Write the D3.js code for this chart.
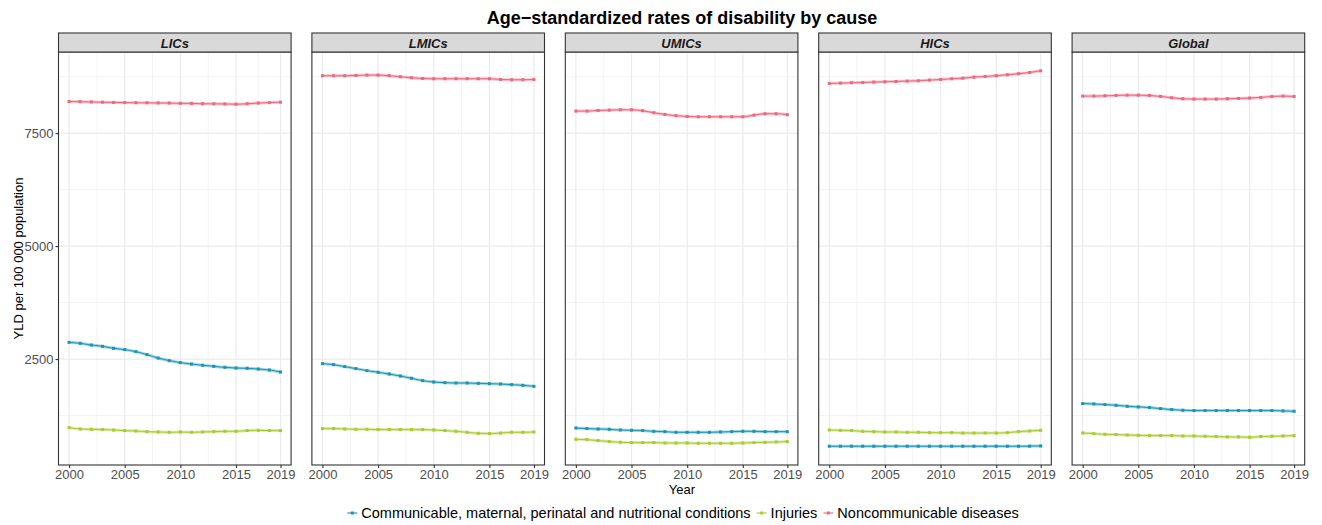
<!DOCTYPE html>
<html>
<head>
<meta charset="utf-8">
<script src="https://cdn.jsdelivr.net/npm/d3@7"></script>
<style>
  html, body { margin: 0; padding: 0; background: #fff; }
  svg { display: block; font-family: "Liberation Sans", Arial, sans-serif; }
</style>
</head>
<body>
<svg id="chart" width="1322" height="525"></svg>
<script>
const years = d3.range(2000, 2020);
const regions = ["LICs", "LMICs", "UMICs", "HICs", "Global"];
const causes = ["Communicable, maternal, perinatal and nutritional conditions", "Injuries", "Noncommunicable diseases"];
const colors = ["#1696B5", "#A7CC2C", "#F0657F"];
const yTicks = [2500, 5000, 7500];
const xTicks = [2000, 2005, 2010, 2015, 2019];

// Communicable, maternal, perinatal and nutritional conditions
const commLICs   = [2869,2847,2810,2781,2737,2708,2664,2597,2522,2465,2420,2389,2361,2338,2316,2301,2294,2279,2257,2212];
const commLMICs  = [2398,2376,2332,2288,2243,2206,2168,2124,2073,2022,1991,1977,1969,1969,1962,1955,1947,1933,1918,1896];
const commUMICs  = [973,960,951,945,929,922,916,900,893,878,878,878,878,885,893,900,900,893,893,893];
const commHICs   = [570,570,570,570,570,570,570,570,570,570,570,570,570,570,570,570,570,570,572,576];
const commGlobal = [1513,1506,1491,1476,1454,1440,1425,1403,1381,1366,1359,1359,1359,1359,1359,1359,1359,1359,1352,1344];
// Injuries
const injLICs    = [982,951,945,938,929,916,907,893,885,878,885,878,885,893,900,900,916,922,916,916];
const injLMICs   = [960,960,951,945,945,938,938,938,938,938,929,916,900,878,856,849,862,878,878,885];
const injUMICs   = [723,716,695,672,657,650,650,650,642,642,642,635,635,635,635,642,650,657,664,672];
const injHICs    = [929,922,916,900,893,885,885,878,878,871,871,871,862,862,862,862,871,893,907,922];
const injGlobal  = [863,849,834,827,819,812,805,805,805,797,797,790,783,776,776,768,783,790,797,805];
// Noncommunicable diseases
const ncdLICs    = [8200,8195,8190,8185,8180,8175,8172,8170,8168,8165,8160,8158,8150,8148,8145,8140,8150,8165,8175,8185];
const ncdLMICs   = [8770,8770,8770,8777,8784,8784,8770,8748,8726,8710,8703,8703,8703,8703,8703,8703,8688,8681,8681,8688];
const ncdUMICs   = [7987,7987,8002,8009,8017,8017,7995,7951,7914,7885,7870,7862,7862,7862,7862,7862,7898,7929,7929,7907];
const ncdHICs    = [8600,8607,8615,8622,8629,8636,8644,8651,8658,8673,8688,8703,8717,8739,8754,8770,8792,8814,8843,8880];
const ncdGlobal  = [8319,8319,8326,8334,8341,8341,8334,8312,8283,8261,8253,8253,8253,8261,8268,8275,8290,8312,8319,8312];

const seriesByRegion = {
  LICs:   [commLICs, injLICs, ncdLICs],
  LMICs:  [commLMICs, injLMICs, ncdLMICs],
  UMICs:  [commUMICs, injUMICs, ncdUMICs],
  HICs:   [commHICs, injHICs, ncdHICs],
  Global: [commGlobal, injGlobal, ncdGlobal]
};

const svg = d3.select("#chart");
const panelLeft0 = 58.5, panelStep = 253.4, panelW = 232.6;
const panelTop = 52, panelBottom = 465, stripTop = 33;

// y scale: shared, with ggplot-style 5% expansion
const allVals = Object.values(seriesByRegion).flat(2);
const yMin = d3.min(allVals), yMax = d3.max(allVals);
const yPad = (yMax - yMin) * 0.05;
const y = d3.scaleLinear().domain([yMin - yPad, yMax + yPad]).range([panelBottom, panelTop]);
const xPad = (2019 - 2000) * 0.05;

// Title
svg.append("text").attr("x", 682).attr("y", 24).attr("text-anchor", "middle")
  .attr("font-size", 18).attr("font-weight", "bold").attr("fill", "#000")
  .text("Age\u2212standardized rates of disability by cause");

const minorY = [1250, 3750, 6250, 8750];

regions.forEach((reg, i) => {
  const x0 = panelLeft0 + i * panelStep;
  const x = d3.scaleLinear().domain([2000 - xPad, 2019 + xPad]).range([x0, x0 + panelW]);
  const g = svg.append("g");

  minorY.forEach(v => {
    g.append("line").attr("x1", x0).attr("x2", x0 + panelW).attr("y1", y(v)).attr("y2", y(v))
      .attr("stroke", "#ebebeb").attr("stroke-width", 0.6);
  });
  const minorX = [2002.5, 2007.5, 2012.5, 2017];
  minorX.forEach(v => {
    g.append("line").attr("y1", panelTop).attr("y2", panelBottom).attr("x1", x(v)).attr("x2", x(v))
      .attr("stroke", "#ebebeb").attr("stroke-width", 0.6);
  });
  yTicks.forEach(v => {
    g.append("line").attr("x1", x0).attr("x2", x0 + panelW).attr("y1", y(v)).attr("y2", y(v))
      .attr("stroke", "#ebebeb").attr("stroke-width", 1.2);
  });
  xTicks.forEach(v => {
    g.append("line").attr("y1", panelTop).attr("y2", panelBottom).attr("x1", x(v)).attr("x2", x(v))
      .attr("stroke", "#ebebeb").attr("stroke-width", 1.2);
  });

  seriesByRegion[reg].forEach((vals, k) => {
    const pts = years.map((yr, j) => [x(yr), y(vals[j])]);
    const line = d3.line().curve(d3.curveMonotoneX);
    g.append("path").attr("d", line(pts)).attr("fill", "none")
      .attr("stroke", colors[k]).attr("stroke-width", 3).attr("stroke-opacity", 0.4);
    g.append("path").attr("d", line(pts)).attr("fill", "none")
      .attr("stroke", colors[k]).attr("stroke-width", 1);
    g.selectAll(null).data(pts).enter().append("rect")
      .attr("x", d => d[0] - 1.5).attr("y", d => d[1] - 1.5)
      .attr("width", 3).attr("height", 3).attr("fill", colors[k]);
  });

  g.append("rect").attr("x", x0).attr("y", panelTop).attr("width", panelW).attr("height", panelBottom - panelTop)
    .attr("fill", "none").attr("stroke", "#333333").attr("stroke-width", 1.1);
  g.append("rect").attr("x", x0).attr("y", stripTop).attr("width", panelW).attr("height", panelTop - stripTop)
    .attr("fill", "#d9d9d9").attr("stroke", "#333333").attr("stroke-width", 1.1);
  g.append("text").attr("x", x0 + panelW / 2).attr("y", stripTop + 14.5).attr("text-anchor", "middle")
    .attr("font-size", 13).attr("font-weight", "bold").attr("font-style", "italic").attr("fill", "#1a1a1a")
    .text(reg);

  const xa = g.append("g").attr("transform", `translate(0,${panelBottom})`)
    .call(d3.axisBottom(x).tickValues(xTicks).tickFormat(d3.format("d")).tickSizeInner(3).tickSizeOuter(0).tickPadding(2));
  xa.select(".domain").remove();
  xa.selectAll("line").attr("stroke", "#333333").attr("stroke-width", 1.1);
  xa.selectAll("text").attr("fill", "#4d4d4d").attr("font-size", 13)
    .attr("font-family", "Liberation Sans, Arial, sans-serif");

  if (i === 0) {
    const ya = g.append("g").attr("transform", `translate(${x0},0)`)
      .call(d3.axisLeft(y).tickValues(yTicks).tickFormat(d3.format("d")).tickSizeInner(3).tickSizeOuter(0).tickPadding(2));
    ya.select(".domain").remove();
    ya.selectAll("line").attr("stroke", "#333333").attr("stroke-width", 1.1);
    ya.selectAll("text").attr("fill", "#4d4d4d").attr("font-size", 13)
      .attr("font-family", "Liberation Sans, Arial, sans-serif");
  }
});

svg.append("text").attr("x", 682).attr("y", 494).attr("text-anchor", "middle")
  .attr("font-size", 13).attr("fill", "#000").text("Year");
svg.append("text").attr("transform", `translate(23,${(panelTop + panelBottom) / 2}) rotate(-90)`)
  .attr("text-anchor", "middle").attr("font-size", 13).attr("fill", "#000")
  .text("YLD per 100 000 population");

const leg = svg.append("g");
const legY = 513;
let items = [];
causes.forEach((c, k) => {
  const it = leg.append("g");
  it.append("line").attr("x1", 0).attr("x2", 10).attr("y1", 0).attr("y2", 0)
    .attr("stroke", colors[k]).attr("stroke-width", 1.1);
  it.append("rect").attr("x", 3.5).attr("y", -1.5).attr("width", 3).attr("height", 3).attr("fill", colors[k]);
  const t = it.append("text").attr("x", 14).attr("y", 5).attr("font-size", 14.5).attr("fill", "#000").text(c);
  items.push({ it, w: 14 + t.node().getComputedTextLength() });
});
const gap = 6;
const total = d3.sum(items, d => d.w) + gap * (items.length - 1);
let cx = 683 - total / 2;
items.forEach(d => { d.it.attr("transform", `translate(${cx},${legY})`); cx += d.w + gap; });
</script>
</body>
</html>
